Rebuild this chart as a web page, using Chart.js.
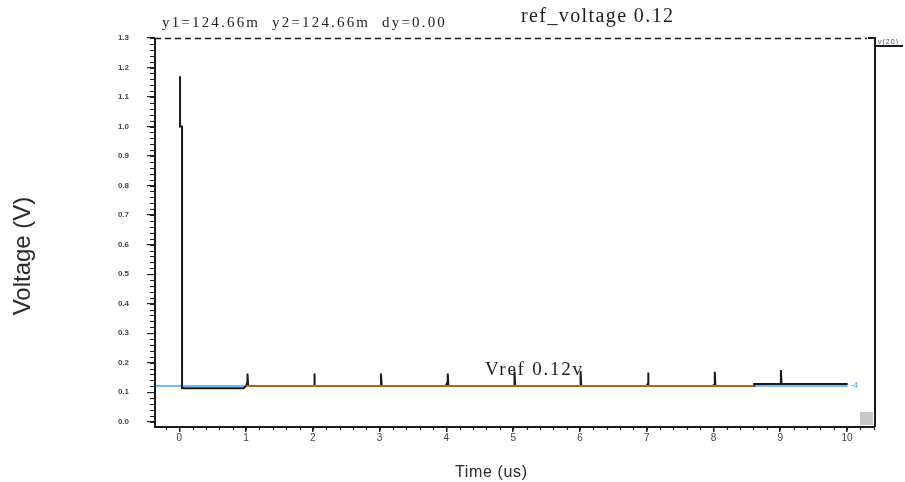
<!DOCTYPE html>
<html>
<head>
<meta charset="utf-8">
<script src="https://cdn.jsdelivr.net/npm/chart.js@4.4.1/dist/chart.umd.min.js"></script>
<style>
  html, body { margin: 0; padding: 0; background: #ffffff; }
  #wrap { width: 905px; height: 482px; }
</style>
</head>
<body>
<div id="wrap"><canvas id="c" width="905" height="482"></canvas></div>
<script>
// Simulated output trace: time (us) and voltage (V) pairs, in drawing order
const outTime = [0.01, 0.01, 0.04, 0.04, 0.96, 1.00, 1.02, 1.02, 1.03,
                 2.01, 2.02, 2.02, 2.03,
                 3.01, 3.02, 3.02, 3.03,
                 3.99, 4.02, 4.02, 4.03,
                 5.01, 5.02, 5.02, 5.03,
                 6.00, 6.01, 6.01, 6.02,
                 7.00, 7.02, 7.02, 7.03,
                 7.99, 8.02, 8.02, 8.03,
                 8.61, 8.61, 9.00, 9.01, 9.01, 9.02, 10.01];
const outVolt = [1.17, 1.00, 1.00, 0.113, 0.113, 0.121, 0.135, 0.163, 0.121,
                 0.121, 0.121, 0.163, 0.121,
                 0.121, 0.121, 0.163, 0.121,
                 0.121, 0.135, 0.163, 0.121,
                 0.121, 0.121, 0.170, 0.121,
                 0.121, 0.121, 0.172, 0.121,
                 0.121, 0.130, 0.167, 0.121,
                 0.121, 0.127, 0.169, 0.121,
                 0.121, 0.128, 0.128, 0.128, 0.175, 0.128, 0.128];

// Reference level Vref = 0.12 V
const vrefTime = [-0.365, 10.01];
const vrefVolt = [0.1205, 0.1205];

// Settled segment of the reference trace
const refTime = [1.00, 8.61];
const refVolt = [0.1205, 0.1205];

// Axis ticks
const xTickValues = [0, 1, 2, 3, 4, 5, 6, 7, 8, 9, 10];
const yTickValues = [0.0, 0.1, 0.2, 0.3, 0.4, 0.5, 0.6, 0.7, 0.8, 0.9, 1.0, 1.1, 1.2, 1.3];
const xMinorStep = 0.2;
const yMinorStep = 0.02;

const toPoints = (xs, ys) => xs.map((x, i) => ({ x: x, y: ys[i] }));

// Frame, minor ticks and annotation text
const decor = {
  id: 'decor',
  afterDraw(chart) {
    const ctx = chart.ctx;
    const a = chart.chartArea;
    const xs = chart.scales.x, ys = chart.scales.y;
    ctx.save();

    // minor ticks on y
    ctx.strokeStyle = '#222';
    ctx.lineWidth = 1.2;
    ctx.beginPath();
    for (let v = 0; v <= 1.3001; v += yMinorStep) {
      const py = Math.round(ys.getPixelForValue(v)) + 0.5;
      ctx.moveTo(a.left - 5, py);
      ctx.lineTo(a.left, py);
    }
    // minor ticks on x
    for (let v = -0.2; v <= 10.41; v += xMinorStep) {
      const px = Math.round(xs.getPixelForValue(v)) + 0.5;
      ctx.moveTo(px, a.bottom);
      ctx.lineTo(px, a.bottom + 3);
    }
    ctx.stroke();

    // left and bottom axis lines
    ctx.lineWidth = 2;
    ctx.strokeStyle = '#1a1a1a';
    ctx.beginPath();
    ctx.moveTo(a.left, a.top);
    ctx.lineTo(a.left, a.bottom);
    ctx.lineTo(a.right, a.bottom);
    ctx.stroke();

    // right line with its label tab
    ctx.beginPath();
    ctx.moveTo(a.right - 7, a.top);
    ctx.lineTo(a.right, a.top);
    ctx.lineTo(a.right, a.bottom);
    ctx.moveTo(a.right, a.top + 8);
    ctx.lineTo(a.right + 28, a.top + 8);
    ctx.stroke();

    // dashed top line
    ctx.lineWidth = 1.5;
    ctx.setLineDash([6, 4]);
    ctx.beginPath();
    ctx.moveTo(a.left, a.top + 0.5);
    ctx.lineTo(a.right - 8, a.top + 0.5);
    ctx.stroke();
    ctx.setLineDash([]);

    // grey corner box
    ctx.fillStyle = '#c8c8c8';
    ctx.fillRect(a.right - 15, a.bottom - 15, 13, 13);

    const fit = (text, font, x, y, width, align, color) => {
      ctx.font = font;
      ctx.fillStyle = color;
      ctx.letterSpacing = '0px';
      const w = ctx.measureText(text).width;
      const sp = (width - w) / Math.max(1, text.length - 1);
      ctx.letterSpacing = sp.toFixed(2) + 'px';
      ctx.textAlign = 'left';
      ctx.textBaseline = 'alphabetic';
      let x0 = x;
      if (align === 'center') x0 = x - width / 2;
      ctx.fillText(text, x0, y);
      ctx.letterSpacing = '0px';
    };

    fit('y1=124.66m  y2=124.66m  dy=0.00', '15px "Liberation Serif"', 162, 27, 283, 'left', '#1e1e1e');
    fit('ref_voltage 0.12', '20px "Liberation Serif"', 521, 22, 152, 'left', '#1e1e1e');
    fit('Vref 0.12v', '19px "Liberation Serif"', 485, 375, 97, 'left', '#1e1e1e');
    fit('Time (us)', '16px "Liberation Sans"', 491, 477, 72, 'center', '#2a2a2a');
    fit('v(20)', '7px "Liberation Sans"', a.right + 3, a.top + 6, 20, 'left', '#4a4a8a');

    // blue end marker of the reference line
    ctx.font = '9px "Liberation Sans"';
    ctx.fillStyle = '#4da3ef';
    ctx.textAlign = 'left';
    ctx.textBaseline = 'middle';
    ctx.fillText('-4', xs.getPixelForValue(10.05), ys.getPixelForValue(0.1205) - 1);

    // vertical y-axis title
    ctx.save();
    ctx.translate(30, 256);
    ctx.rotate(-Math.PI / 2);
    ctx.font = '24px "Liberation Sans"';
    ctx.fillStyle = '#2a2a2a';
    ctx.textAlign = 'center';
    ctx.textBaseline = 'alphabetic';
    ctx.fillText('Voltage (V)', 0, 0);
    ctx.restore();

    ctx.restore();
  }
};

new Chart(document.getElementById('c'), {
  type: 'scatter',
  data: {
    datasets: [
      {
        label: 'ref',
        data: toPoints(refTime, refVolt),
        showLine: true,
        borderColor: '#b5651d',
        borderWidth: 2,
        pointRadius: 0,
        order: 1
      },
      {
        label: 'v(20)',
        data: toPoints(outTime, outVolt),
        showLine: true,
        borderColor: '#1a1a1a',
        borderWidth: 2,
        pointRadius: 0,
        tension: 0,
        order: 2
      },
      {
        label: 'Vref',
        data: toPoints(vrefTime, vrefVolt),
        showLine: true,
        borderColor: '#4da3ef',
        borderWidth: 1.5,
        pointRadius: 0,
        order: 3
      }
    ]
  },
  options: {
    responsive: false,
    animation: false,
    devicePixelRatio: 1,
    layout: { padding: { left: 0, top: 38, right: 30, bottom: 0 } },
    plugins: { legend: { display: false }, tooltip: { enabled: false } },
    scales: {
      x: {
        type: 'linear',
        min: -0.365,
        max: 10.42,
        afterBuildTicks: (s) => { s.ticks = xTickValues.map(v => ({ value: v })); },
        afterFit: (s) => { s.height = 55; },
        ticks: {
          autoSkip: false,
          maxRotation: 0,
          padding: 0,
          color: '#4b4040',
          font: { family: 'Liberation Sans', size: 10 },
          callback: (v) => String(v)
        },
        grid: { drawOnChartArea: false, drawTicks: true, tickLength: 5, color: '#222', lineWidth: 1.5 },
        border: { display: false }
      },
      y: {
        type: 'linear',
        min: -0.018,
        max: 1.3,
        afterBuildTicks: (s) => { s.ticks = yTickValues.map(v => ({ value: v })); },
        afterFit: (s) => { s.width = 155; },
        ticks: {
          autoSkip: false,
          padding: 18,
          color: '#4b4040',
          font: { family: 'Liberation Sans', size: 8, weight: 'bold' },
          callback: (v) => Number(v).toFixed(1)
        },
        grid: { drawOnChartArea: false, drawTicks: true, tickLength: 8, color: '#222', lineWidth: 1.2 },
        border: { display: false }
      }
    }
  },
  plugins: [decor]
});
</script>
</body>
</html>
